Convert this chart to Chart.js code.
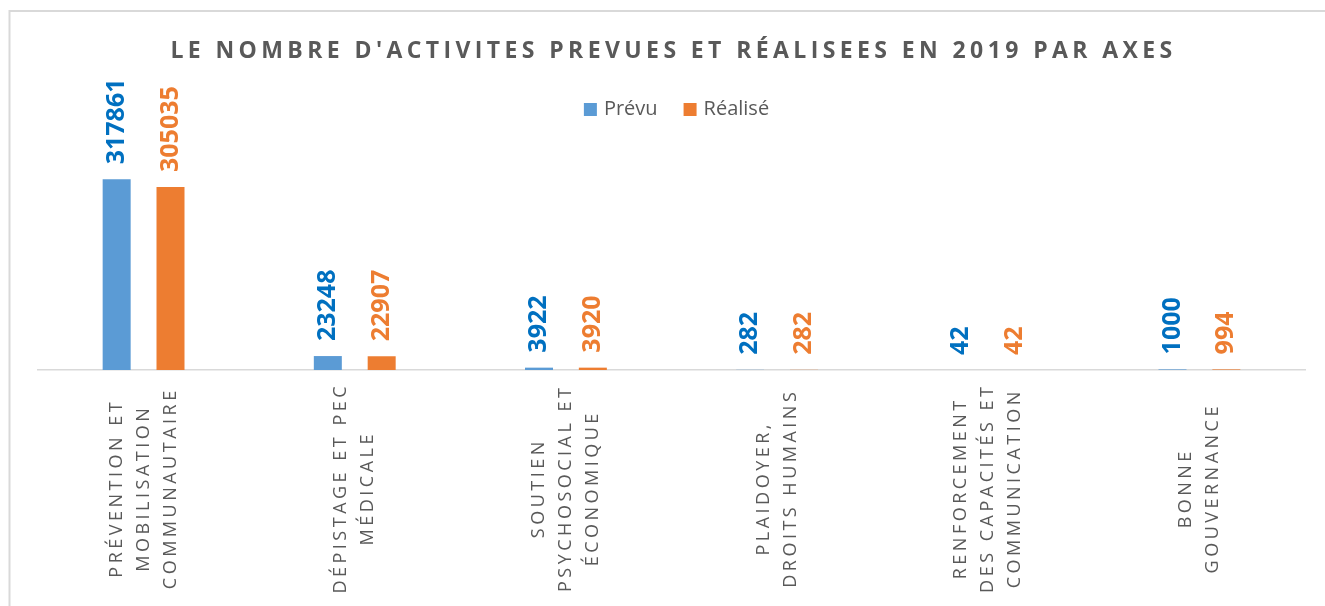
<!DOCTYPE html>
<html>
<head>
<meta charset="utf-8">
<script src="https://cdn.jsdelivr.net/npm/chart.js@4/dist/chart.umd.min.js"></script>
<style>
  html, body { margin: 0; padding: 0; background: #fff; overflow: hidden; }
  #wrap { position: relative; width: 1325px; height: 606px; }
</style>
</head>
<body>
<div id="wrap"><canvas id="chart"></canvas></div>
<script>
/* ---------- données ---------- */
const titre = "LE NOMBRE D'ACTIVITES PREVUES ET RÉALISEES EN 2019 PAR AXES";
const axes = [
  ['PRÉVENTION ET', 'MOBILISATION', 'COMMUNAUTAIRE'],
  ['DÉPISTAGE ET PEC', 'MÉDICALE'],
  ['SOUTIEN', 'PSYCHOSOCIAL ET', 'ÉCONOMIQUE'],
  ['PLAIDOYER,', 'DROITS HUMAINS'],
  ['RENFORCEMENT', 'DES CAPACITÉS ET', 'COMMUNICATION'],
  ['BONNE', 'GOUVERNANCE']
];
const prevu   = [317861, 23248, 3922, 282, 42, 1000];
const realise = [305035, 22907, 3920, 282, 42, 994];

const GRIS = '#595959';

/* ---------- titre, légende, valeurs et étiquettes dessinés à la main ---------- */
const textes = {
  id: 'textes',
  beforeDraw(chart) {
    const { ctx } = chart;
    ctx.save();
    ctx.strokeStyle = '#d9d9d9';
    ctx.lineWidth = 2;
    ctx.strokeRect(9.5, 11, chart.width + 10, chart.height + 10);
    ctx.restore();
  },
  afterDraw(chart) {
    const { ctx, chartArea, scales: { x } } = chart;

    // titre
    ctx.save();
    ctx.font = 'bold 23px "Open Sans"';
    ctx.letterSpacing = '4.4px';
    ctx.fillStyle = GRIS;
    ctx.textAlign = 'center';
    ctx.textBaseline = 'middle';
    ctx.fillText(titre, chart.width / 2 + 11, 51);
    ctx.restore();

    // légende
    ctx.save();
    ctx.font = '20px "Open Sans"';
    ctx.textBaseline = 'middle';
    const items = chart.data.datasets.map(ds => ({
      label: ds.label, color: ds.backgroundColor, w: ctx.measureText(ds.label).width
    }));
    const total = items.reduce((s, it) => s + 20 + it.w, 0) + 26 * (items.length - 1);
    let lx = chart.width / 2 + 14 - total / 2;
    const ly = 109.5;
    items.forEach(it => {
      ctx.fillStyle = it.color;
      ctx.fillRect(lx, ly - 6.5, 13, 13);
      ctx.fillStyle = GRIS;
      ctx.fillText(it.label, lx + 20, ly);
      lx += 20 + it.w + 26;
    });
    ctx.restore();

    // valeurs au-dessus des barres
    chart.data.datasets.forEach((ds, di) => {
      const meta = chart.getDatasetMeta(di);
      meta.data.forEach((bar, i) => {
        ctx.save();
        ctx.translate(bar.x, bar.y - 15);
        ctx.rotate(-Math.PI / 2);
        ctx.font = 'bold 25px "Open Sans"';
        ctx.fillStyle = ds.labelColor;
        ctx.textAlign = 'left';
        ctx.textBaseline = 'middle';
        ctx.fillText(String(ds.data[i]), 0, 0);
        ctx.restore();
      });
    });

    // étiquettes de l'axe x
    const lh = 27, ls = 3.5;
    axes.forEach((lines, i) => {
      const cx = x.getPixelForValue(i);
      const cy = chartArea.bottom + 120;
      lines.forEach((line, j) => {
        const off = (j - (lines.length - 1) / 2) * lh;
        ctx.save();
        ctx.translate(cx + off, cy);
        ctx.rotate(-Math.PI / 2);
        ctx.font = '18px "Open Sans"';
        ctx.letterSpacing = ls + 'px';
        ctx.fillStyle = GRIS;
        ctx.textAlign = 'center';
        ctx.textBaseline = 'middle';
        ctx.fillText(line, ls / 2, 0);
        ctx.restore();
      });
    });
  }
};

/* ---------- graphique ---------- */
new Chart(document.getElementById('chart'), {
  type: 'bar',
  data: {
    labels: axes,
    datasets: [
      { label: 'Prévu', data: prevu, backgroundColor: '#5B9BD5', labelColor: '#0070C0',
        categoryPercentage: 0.51, barPercentage: 0.52 },
      { label: 'Réalisé', data: realise, backgroundColor: '#ED7D31', labelColor: '#ED7D31',
        categoryPercentage: 0.51, barPercentage: 0.52 }
    ]
  },
  options: {
    responsive: true,
    maintainAspectRatio: false,
    animation: false,
    layout: { padding: { top: 130, left: 38, right: 20, bottom: 228 } },
    plugins: {
      title: { display: false },
      legend: { display: false },
      tooltip: { enabled: false }
    },
    scales: {
      x: {
        grid: { display: false },
        border: { display: true, color: '#d9d9d9', width: 1.5 },
        ticks: { display: false }
      },
      y: { display: false, min: 0, max: 400000 }
    }
  },
  plugins: [textes]
});
</script>
</body>
</html>
